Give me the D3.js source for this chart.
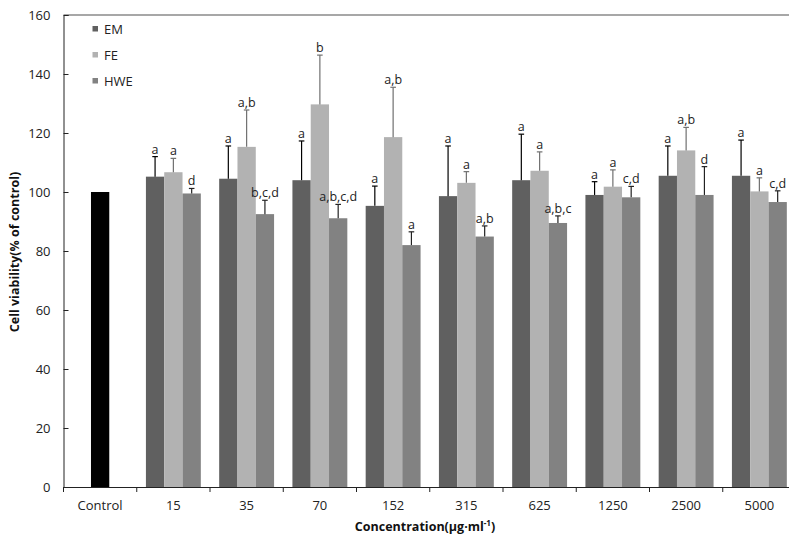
<!DOCTYPE html>
<html><head><meta charset="utf-8">
<script src="https://cdn.jsdelivr.net/npm/d3@7"></script>
<style>body{margin:0;background:#fff}svg{display:block}text{font-family:"Open Sans","Noto Sans",sans-serif}</style>
</head><body><svg id="c" width="789" height="539"></svg>
<script>
const categories = ["Control","15","35","70","152","315","625","1250","2500","5000"];
const seriesNames = ["EM","FE","HWE"];
const controlValue = 100;
const EM      = [105.2,104.5,104.0, 95.3, 98.6,104.0, 99.0,105.5,105.5];
const EM_err  = [  6.8, 11.1, 13.3,  6.7, 17.0, 15.6,  4.5, 10.1, 12.1];
const FE      = [106.7,115.3,129.7,118.6,103.1,107.2,101.8,114.1,100.2];
const FE_err  = [  4.7, 12.5, 16.7, 16.9,  3.8,  6.4,  5.7,  7.8,  4.6];
const HWE     = [ 99.5, 92.5, 91.1, 82.0, 84.9, 89.5, 98.2, 99.0, 96.6];
const HWE_err = [  1.7,  4.7,  4.7,  4.5,  3.6,  2.4,  3.7,  9.6,  3.8];
const EM_lbl  = ["a","a","a","a","a","a","a","a","a"];
const FE_lbl  = ["a","a,b","b","a,b","a","a","a","a,b","a"];
const HWE_lbl = ["d","b,c,d","a,b,c,d","a","a,b","a,b,c","c,d","d","c,d"];
const yTicks = [0,20,40,60,80,100,120,140,160];

const colors = {EM:"#606060", FE:"#b2b2b2", HWE:"#828282", Control:"#000"};
const errColors = {EM:"#000", FE:"#707070", HWE:"#222"};

const svg = d3.select("#c");
const mLeft = 63.5, mRight = 796, mTop = 15, mBottom = 487;
const x = d3.scaleBand().domain(categories).range([mLeft, mRight]).padding(0);
const y = d3.scaleLinear().domain([0,160]).range([mBottom, mTop]);
const bw = 18.3;

// top border
svg.append("line").attr("x1",mLeft).attr("x2",789).attr("y1",y(160)).attr("y2",y(160))
  .attr("stroke","#8a8a8a").attr("stroke-width",1.5);

// control bar
svg.append("rect").attr("x", x("Control")+x.bandwidth()/2-bw/2).attr("width",bw)
  .attr("y", y(controlValue)).attr("height", y(0)-y(controlValue)).attr("fill",colors.Control);

const series = [
  {name:"EM", v:EM, e:EM_err, l:EM_lbl},
  {name:"FE", v:FE, e:FE_err, l:FE_lbl},
  {name:"HWE", v:HWE, e:HWE_err, l:HWE_lbl}
];
const cats = categories.slice(1);
series.forEach((s, si) => {
  const g = svg.append("g");
  cats.forEach((c, i) => {
    const cx = x(c) + x.bandwidth()/2 + (si-1)*bw;
    g.append("rect").attr("x", cx-bw/2).attr("width", bw)
      .attr("y", y(s.v[i])).attr("height", y(0)-y(s.v[i])).attr("fill", colors[s.name]);
    const yt = y(s.v[i]+s.e[i]);
    g.append("line").attr("x1",cx).attr("x2",cx).attr("y1",y(s.v[i])).attr("y2",yt)
      .attr("stroke",errColors[s.name]).attr("stroke-width",1.2);
    g.append("line").attr("x1",cx-2.8).attr("x2",cx+2.8).attr("y1",yt).attr("y2",yt)
      .attr("stroke",errColors[s.name]).attr("stroke-width",1.2);
    g.append("text").attr("x",cx).attr("y",yt-3).attr("text-anchor","middle")
      .attr("font-size",12.5).attr("fill","#222").text(s.l[i]);
  });
});

// y axis
const ya = svg.append("g").attr("transform",`translate(${mLeft},0)`)
  .call(d3.axisLeft(y).tickValues(yTicks).tickSize(-5).tickPadding(13));
ya.select(".domain").attr("stroke","#222");
ya.selectAll(".tick line").attr("stroke","#222");
ya.selectAll("text").attr("font-size",13).attr("fill","#222")
  .attr("font-family",'"Open Sans","Noto Sans",sans-serif');

// x axis
const xa = svg.append("g").attr("transform",`translate(0,${mBottom})`)
  .call(d3.axisBottom(x).tickSize(0).tickPadding(14));
xa.select(".domain").attr("stroke","#222");
xa.selectAll("text").attr("font-size",13).attr("fill","#222")
  .attr("font-family",'"Open Sans","Noto Sans",sans-serif');
// tick marks at band boundaries
svg.append("g").selectAll("line").data(categories).join("line")
  .attr("x1",d=>x(d)).attr("x2",d=>x(d)).attr("y1",mBottom).attr("y2",mBottom+5)
  .attr("stroke","#222");

// axis titles
const xt = svg.append("text").attr("x",425).attr("y",531).attr("text-anchor","middle")
  .attr("font-size",12.5).attr("font-weight","bold").attr("fill","#111");
xt.append("tspan").text("Concentration(μg·ml");
xt.append("tspan").attr("font-size",8).attr("dy",-5).text("-1");
xt.append("tspan").attr("dy",5).text(")");

svg.append("text").attr("transform","translate(19,252) rotate(-90)").attr("text-anchor","middle")
  .attr("font-size",12.5).attr("font-weight","bold").attr("fill","#111")
  .text("Cell viability(% of control)");

// legend
seriesNames.forEach((n,i) => {
  const ly = 29 + i*26;
  svg.append("rect").attr("x",92.5).attr("y",ly-3).attr("width",5.5).attr("height",5.5).attr("fill",colors[n]);
  svg.append("text").attr("x",104).attr("y",ly+4.5).attr("font-size",13).attr("fill","#222").text(n);
});
</script></body></html>
